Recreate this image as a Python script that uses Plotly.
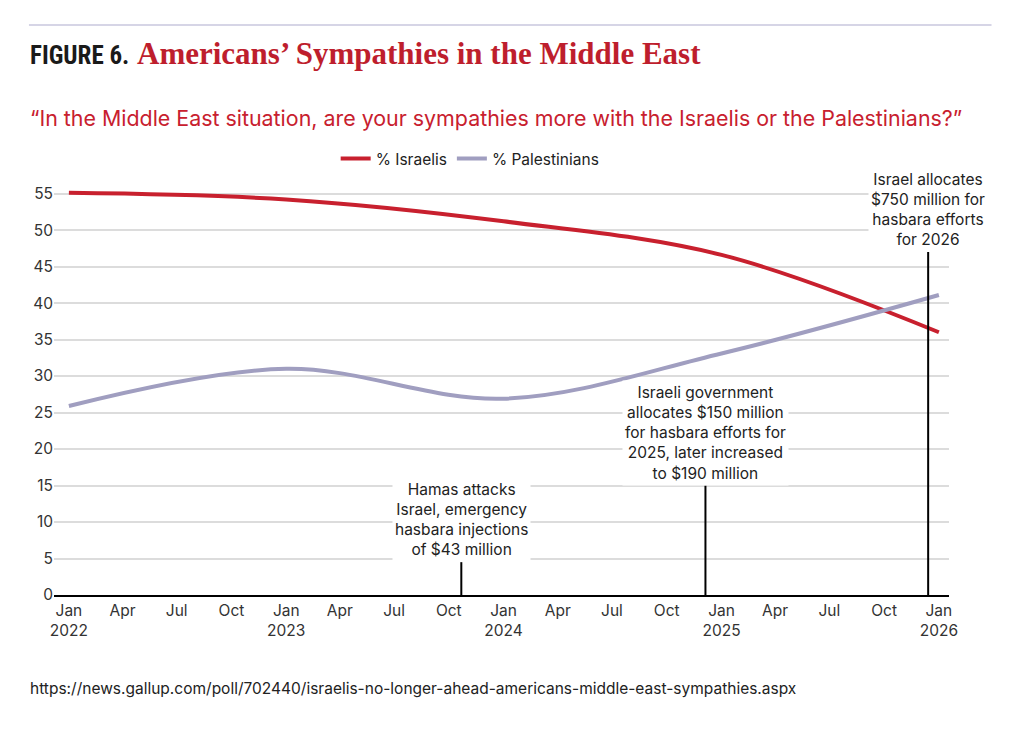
import plotly.graph_objects as go

# survey points (Gallup, yearly)
poll_dates = ["2022-01-01", "2023-01-01", "2024-01-01", "2025-01-01", "2026-01-01"]
israelis = [55.1, 54.2, 51.2, 46.6, 36.0]
palestinians = [25.9, 31.0, 26.9, 33.1, 41.1]

# hasbara spending events
event_dates = ["2023-10-22", "2024-12-05", "2025-12-14"]
event_heights = [4.5, 15, 47]
event_labels = [
    "Hamas attacks<br>Israel, emergency<br>hasbara injections<br>of $43 million",
    "Israeli government<br>allocates $150 million<br>for hasbara efforts for<br>2025, later increased<br>to $190 million",
    "Israel allocates<br>$750 million for<br>hasbara efforts<br>for 2026",
]

tick_dates = ["2022-01-01", "2022-04-01", "2022-07-01", "2022-10-01",
              "2023-01-01", "2023-04-01", "2023-07-01", "2023-10-01",
              "2024-01-01", "2024-04-01", "2024-07-01", "2024-10-01",
              "2025-01-01", "2025-04-01", "2025-07-01", "2025-10-01",
              "2026-01-01"]
tick_text = ["Jan<br>2022", "Apr", "Jul", "Oct",
             "Jan<br>2023", "Apr", "Jul", "Oct",
             "Jan<br>2024", "Apr", "Jul", "Oct",
             "Jan<br>2025", "Apr", "Jul", "Oct",
             "Jan<br>2026"]

RED = "#C8202E"
LAV = "#A09EC0"
FONT = "Inter, 'Open Sans', sans-serif"

fig = go.Figure()
fig.add_trace(go.Scatter(x=poll_dates, y=israelis, name="% Israelis", mode="lines",
                         line=dict(color=RED, width=4, shape="spline", smoothing=1.0)))
fig.add_trace(go.Scatter(x=poll_dates, y=palestinians, name="% Palestinians", mode="lines",
                         line=dict(color=LAV, width=4, shape="spline", smoothing=1.0)))

# event markers + labels
for d, h, txt in zip(event_dates, event_heights, event_labels):
    fig.add_shape(type="line", x0=d, x1=d, y0=0, y1=h, xref="x", yref="y",
                  line=dict(color="black", width=2), layer="above")
    fig.add_annotation(x=d, y=h, xref="x", yref="y", text=txt, showarrow=False,
                       xanchor="center", yanchor="bottom", align="center",
                       bgcolor="white", borderpad=2,
                       font=dict(family=FONT, size=15.5, color="#222222"))

# header texts (page body adds 8px, so the figure is shifted up/left by that)
fig.add_shape(type="line", xref="paper", yref="paper", x0=-0.028, x1=1.0475,
              y0=1.370, y1=1.370, line=dict(color="#C9C7DE", width=1.5))
fig.add_annotation(xref="paper", yref="paper", x=-0.029, y=1.298, xanchor="left", yanchor="middle",
                   text="<b>FIGURE 6.</b>", showarrow=False,
                   font=dict(family="'Liberation Sans Narrow', 'Roboto Condensed', 'Arial Narrow', sans-serif",
                             size=25, color="#1a1a1a"))
fig.add_annotation(xref="paper", yref="paper", x=0.0905, y=1.302, xanchor="left", yanchor="middle",
                   text="<b>Americans’ Sympathies in the Middle East</b>", showarrow=False,
                   font=dict(family="'Liberation Serif', serif", size=31, color="#BE1E2D"))
fig.add_annotation(xref="paper", yref="paper", x=-0.029, y=1.1466, xanchor="left", yanchor="middle",
                   text="“In the Middle East situation, are your sympathies more with the Israelis or the Palestinians?”",
                   showarrow=False, font=dict(family=FONT, size=21.4, color="#C8202E"))
fig.add_annotation(xref="paper", yref="paper", x=-0.029, y=-0.2236, xanchor="left", yanchor="middle",
                   text="https://news.gallup.com/poll/702440/israelis-no-longer-ahead-americans-middle-east-sympathies.aspx",
                   showarrow=False, font=dict(family=FONT, size=15.5, color="#222222"))

fig.update_layout(
    width=1024, height=729,
    margin=dict(l=46, r=83, t=171, b=142),
    paper_bgcolor="white", plot_bgcolor="white",
    font=dict(family=FONT, size=15.5, color="#333333"),
    showlegend=True,
    legend=dict(orientation="h", x=0.465, y=1.048, xanchor="center", yanchor="middle",
                font=dict(family=FONT, size=15.5, color="#222222"), itemwidth=30),
    xaxis=dict(type="date", range=["2021-12-07", "2026-01-18"], tickmode="array",
               tickvals=tick_dates, ticktext=tick_text, showgrid=False, ticks="",
               showline=True, linecolor="black", linewidth=2, zeroline=False,
               tickfont=dict(family=FONT, size=15.5, color="#333333")),
    yaxis=dict(range=[0, 57], tickmode="array", tickvals=[0, 5, 10, 15, 20, 25, 30, 35, 40, 45, 50, 55],
               showgrid=True, gridcolor="#DCDCDC", gridwidth=1.5, zeroline=False, showline=False,
               ticks="", tickfont=dict(family=FONT, size=15.5, color="#333333")),
)

fig.write_html("out.html")
